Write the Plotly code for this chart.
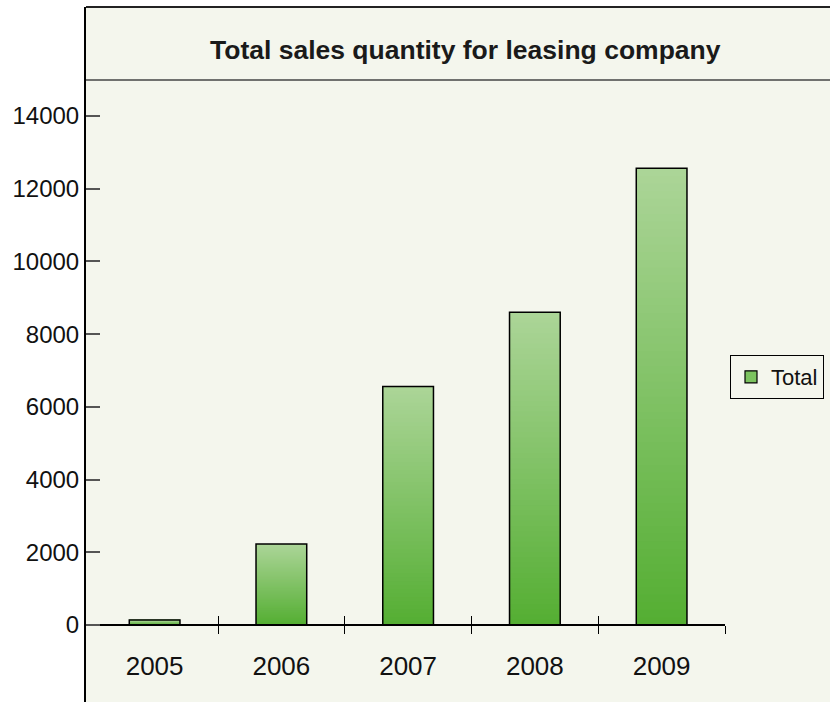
import plotly.graph_objects as go

years = ["2005", "2006", "2007", "2008", "2009"]
totals = [140, 2225, 6560, 8600, 12560]
y_ticks = [0, 2000, 4000, 6000, 8000, 10000, 12000, 14000]
y_labels = [str(v) for v in y_ticks]

BG = "#f4f6ed"
TOP = (172, 213, 152)
BOT = (84, 174, 50)
N = 60
FONT = "Liberation Sans, Arial, Helvetica, sans-serif"

xs = list(range(len(years)))
bounds = [i + 0.5 for i in xs]
XR = [-0.5414, 4.5]

fig = go.Figure()
for k in range(N):
    t = (k + 0.5) / N
    c = tuple(round(BOT[j] + (TOP[j] - BOT[j]) * t) for j in range(3))
    fig.add_trace(go.Bar(
        x=xs, y=[v * (N - k) / N for v in totals], base=[v * k / N for v in totals],
        width=0.4,
        marker=dict(color="rgb(%d,%d,%d)" % c, line=dict(width=0)),
        showlegend=False, hoverinfo="skip"))
fig.add_trace(go.Bar(
    x=xs, y=totals, width=0.4,
    marker=dict(color="rgba(0,0,0,0)", line=dict(color="black", width=1.5)),
    showlegend=False))
fig.add_trace(go.Bar(
    x=xs, y=[None] * len(xs), name="Total",
    marker=dict(color="rgb(124,195,95)", line=dict(color="black", width=1.2))))

H = 695
pos0 = (702 - 625) / H

fig.update_layout(
    width=830, height=702,
    margin=dict(l=86, r=0, t=7, b=0),
    paper_bgcolor="white", plot_bgcolor=BG,
    barmode="overlay",
    font=dict(family=FONT, size=24, color="#111"),
    xaxis=dict(domain=[0, (725 - 86) / 744], range=XR,
               anchor="free", position=pos0,
               tickmode="array", tickvals=xs, ticktext=years, ticks="",
               tickfont=dict(size=26),
               ticklabelstandoff=18,
               showline=True, linecolor="black", linewidth=1.5,
               showgrid=False, zeroline=False,
               minor=dict(tickmode="array", tickvals=bounds, ticks="outside",
                          ticklen=8, tickwidth=1.2, tickcolor="black", showgrid=False)),
    xaxis2=dict(overlaying="x", matches="x", range=XR,
                domain=[0, (725 - 86) / 744],
                anchor="free", position=pos0,
                tickmode="array", tickvals=bounds, ticks="inside", ticklen=9,
                tickwidth=1.2, tickcolor="black", showticklabels=False,
                showline=False, showgrid=False, zeroline=False),
    yaxis=dict(range=[-2118, 16998], tickmode="array", tickvals=y_ticks,
               ticktext=y_labels, tickfont=dict(size=24),
               ticks="inside", ticklen=14, tickcolor="#555", tickwidth=1.5,
               showline=True, linecolor="black", linewidth=2,
               showgrid=False, zeroline=False),
    legend=dict(x=(730 - 86) / 744, y=(702 - 355) / H, xanchor="left", yanchor="top",
                bgcolor=BG, bordercolor="black", borderwidth=1,
                font=dict(family=FONT, size=22, color="#111"),
                itemwidth=30, tracegroupgap=0),
    shapes=[
        dict(type="rect", xref="paper", yref="paper",
             x0=(725 - 86) / 744, x1=1, y0=0, y1=1,
             fillcolor=BG, line=dict(width=0), layer="below"),
        dict(type="line", xref="paper", yref="paper", x0=0, x1=1, y0=1, y1=1,
             line=dict(color="#222", width=2)),
        dict(type="line", xref="paper", yref="paper", x0=0, x1=1,
             y0=(702 - 80) / H, y1=(702 - 80) / H,
             line=dict(color="#444", width=1.5)),
    ],
    annotations=[dict(text="<b>Total sales quantity for leasing company</b>",
                      xref="paper", yref="paper", x=(465 - 86) / 744,
                      y=(702 - 50) / H, xanchor="center", yanchor="middle",
                      showarrow=False,
                      font=dict(family=FONT, size=26.5, color="#1a1a1a"))],
)
fig.add_trace(go.Scatter(x=[None], y=[None], xaxis="x2", showlegend=False))

fig.write_html("out.html")
